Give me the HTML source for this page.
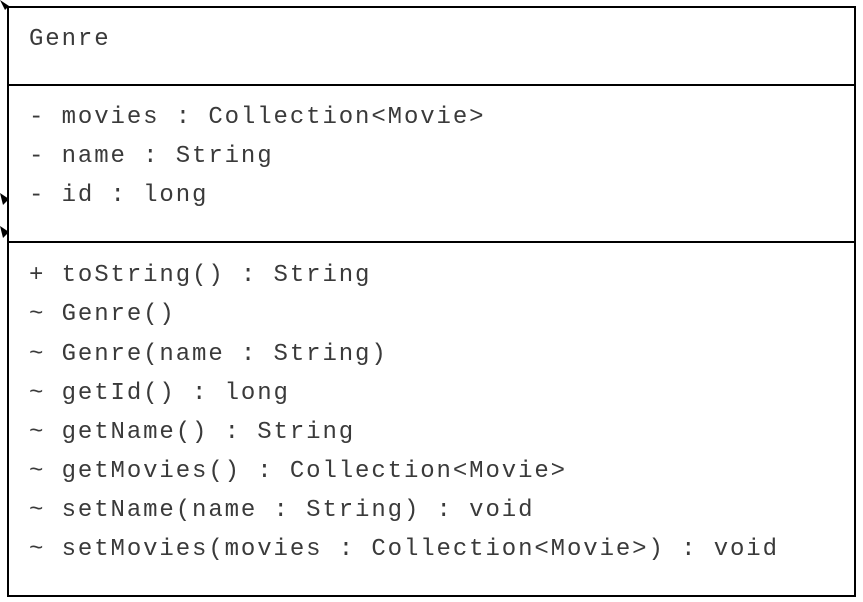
<!DOCTYPE html>
<html><head><style>
body{margin:0;background:#fff;width:863px;height:602px;overflow:hidden;position:relative}
.box{position:absolute;left:7px;top:6px;width:845px;height:587px;border:2px solid #000}
.hl{position:absolute;left:7px;width:849px;height:2px;background:#000}
.t{position:absolute;left:29px;font-family:"Liberation Mono",monospace;font-size:24px;letter-spacing:1.9px;line-height:30px;white-space:pre;color:#3a3a3a}
svg{position:absolute;left:0;top:0}
</style></head><body>
<div class="box"></div>
<div class="hl" style="top:84px"></div>
<div class="hl" style="top:241px"></div>
<svg width="20" height="250"><polygon points="0,0 9,6 5,10" fill="#000"/><polygon points="0,193 9,199 3,205" fill="#000"/><polygon points="0,226 9,232 3,238" fill="#000"/></svg>
<div class="t" style="top:25px">Genre</div>
<div class="t" style="top:103px">- movies : Collection&lt;Movie&gt;</div>
<div class="t" style="top:142px">- name : String</div>
<div class="t" style="top:181px">- id : long</div>
<div class="t" style="top:261px">+ toString() : String</div>
<div class="t" style="top:300px">~ Genre()</div>
<div class="t" style="top:340px">~ Genre(name : String)</div>
<div class="t" style="top:379px">~ getId() : long</div>
<div class="t" style="top:418px">~ getName() : String</div>
<div class="t" style="top:457px">~ getMovies() : Collection&lt;Movie&gt;</div>
<div class="t" style="top:496px">~ setName(name : String) : void</div>
<div class="t" style="top:535px">~ setMovies(movies : Collection&lt;Movie&gt;) : void</div>
</body></html>
